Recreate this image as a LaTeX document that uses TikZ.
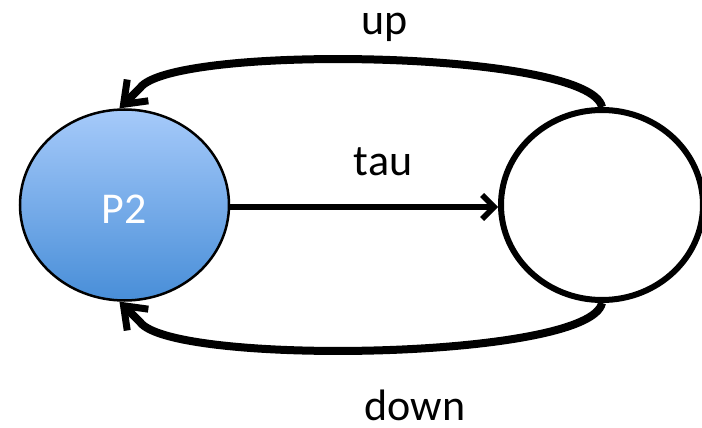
\documentclass[tikz,border=0pt]{standalone}
\usepackage{fontspec}
\setmainfont{Carlito}
\usetikzlibrary{shapes.geometric,arrows.meta}
\definecolor{ptop}{RGB}{166,202,250}
\definecolor{pbot}{RGB}{72,142,216}
\tikzset{
  lbl/.style={font=\fontsize{44}{50}\selectfont, anchor=base, inner sep=0pt},
  state/.style={ellipse, inner sep=0pt},
  arc/.style={line width=8pt, line join=round, -{Straight Barb[length=20pt,width=30pt,line width=7pt]}},
  tarr/.style={line width=6pt, -{Straight Barb[length=12pt,width=24pt,line width=5.5pt]}}
}
\begin{document}
\begin{tikzpicture}[x=1pt,y=-1pt]
\useasboundingbox (0,0) rectangle (702,428);
\node[state, minimum width=209pt, minimum height=191pt, draw=black, line width=2.5pt,
      top color=ptop, bottom color=pbot] (p2) at (124.5,205) {};
\node[lbl, text=white] (p2t) at (124,223) {P2};
\node[state, minimum width=202pt, minimum height=190pt, draw=black, line width=6pt] (q) at (602,205) {};
\node[lbl] (up) at (385,35) {up};
\node[lbl] (tau) at (383,175) {tau};
\node[lbl] (down) at (415,420) {down};
\coordinate (ua) at (140,88);
\coordinate (da) at (140,322);
\draw[tarr] (p2.east |- 0,207) -- (q.west |- 0,207);
\draw[arc] (q.north) .. controls (590,50) and (172,44) .. (ua) -- (p2.93);
\draw[arc] (q.south) .. controls (590,360) and (172,366) .. (da) -- (p2.267);
\end{tikzpicture}
\end{document}
